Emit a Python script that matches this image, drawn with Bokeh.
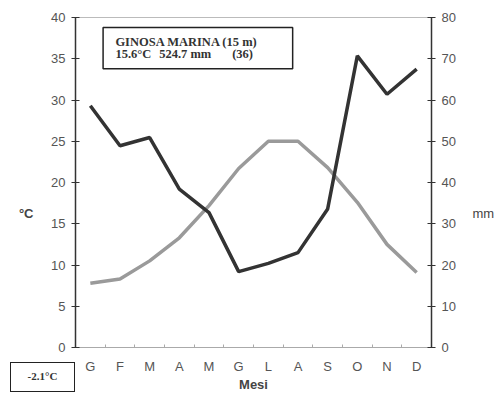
from bokeh.plotting import figure
from bokeh.models import LinearAxis, Range1d, FixedTicker, Label, BoxAnnotation, Div
from bokeh.layouts import column
from bokeh.embed import file_html
from bokeh.resources import INLINE

months = ["G", "F", "M", "A", "M", "G", "L", "A", "S", "O", "N", "D"]
temperature = [7.8, 8.3, 10.5, 13.3, 17.2, 21.7, 25.0, 25.0, 21.8, 17.6, 12.5, 9.1]
precipitation = [58.6, 48.9, 50.9, 38.4, 32.7, 18.4, 20.4, 23.0, 33.6, 70.7, 61.4, 67.5]
temp_ticks = list(range(0, 41, 5))
mm_ticks = list(range(0, 81, 10))

xs = [i + 0.5 for i in range(len(months))]

W, H = 497, 395
p = figure(width=W, height=H, x_range=Range1d(0, 12), y_range=Range1d(0, 40),
           output_backend="svg", toolbar_location=None,
           min_border_left=75, min_border_right=65, min_border_top=17, min_border_bottom=48)
p.extra_y_ranges = {"mm": Range1d(0, 80)}
p.xgrid.visible = False
p.ygrid.visible = False
p.outline_line_color = "#bbbbbb"

p.line(xs, temperature, color="#9a9a9a", line_width=3.5)
p.line(xs, precipitation, y_range_name="mm", color="#333333", line_width=3.5)

FONT = "Liberation Sans"
SERIF = "Liberation Serif"

def style_y(ax):
    ax.axis_line_color = "#333333"
    ax.axis_line_width = 1.5
    ax.major_tick_line_color = "#333333"
    ax.major_tick_line_width = 1.2
    ax.major_tick_in = 4
    ax.major_tick_out = 4
    ax.minor_tick_line_color = None
    ax.major_label_text_font = FONT
    ax.major_label_text_font_size = "13px"
    ax.major_label_text_color = "#555555"
    ax.major_label_standoff = 6

yl = p.yaxis[0]
yl.ticker = FixedTicker(ticks=temp_ticks)
style_y(yl)

yr = LinearAxis(y_range_name="mm", ticker=FixedTicker(ticks=mm_ticks))
style_y(yr)
p.add_layout(yr, "right")

# label-only axes: one tick label placed at the wanted height
def label_axis(pos, text, standoff, bold, **kw):
    return LinearAxis(ticker=FixedTicker(ticks=[pos]), major_label_overrides={pos: text},
                      axis_line_color=None, major_tick_line_color=None,
                      minor_tick_line_color=None, major_tick_in=0, major_tick_out=0,
                      minor_tick_in=0, minor_tick_out=0, major_label_standoff=standoff,
                      major_label_text_font=FONT, major_label_text_font_size="13px",
                      major_label_text_font_style="bold" if bold else "normal",
                      major_label_text_color="#444444", **kw)

p.add_layout(label_axis(16.2, "°C", 15, True), "left")
p.add_layout(label_axis(32.4, "mm", 14, False, y_range_name="mm"), "right")

xa = p.xaxis[0]
xa.ticker = FixedTicker(ticks=xs, minor_ticks=list(range(0, 13)))
xa.major_label_overrides = {x: m for x, m in zip(xs, months)}
xa.axis_line_color = "#aaaaaa"
xa.major_tick_line_color = None
xa.minor_tick_line_color = "#aaaaaa"
xa.minor_tick_in = 3
xa.minor_tick_out = 0
xa.major_label_text_font = FONT
xa.major_label_text_font_size = "13px"
xa.major_label_text_color = "#555555"
xa.major_label_standoff = 5
xa.axis_label = "Mesi"
xa.axis_label_text_font = FONT
xa.axis_label_text_font_style = "bold"
xa.axis_label_text_font_size = "13px"
xa.axis_label_text_color = "#444444"
xa.axis_label_standoff = 0

p.add_layout(BoxAnnotation(left=0.93, right=7.32, bottom=33.8, top=38.8,
                           fill_color="white", fill_alpha=1, line_color="#222222",
                           line_width=1.5, line_alpha=1))

def tlabel(x, y, text):
    p.add_layout(Label(x=x, y=y, text=text, text_baseline="middle",
                       text_font=SERIF, text_font_style="bold", text_font_size="12.5px",
                       text_color="#333333"))

tlabel(1.345, 36.97, "GINOSA MARINA (15 m)")
tlabel(1.345, 35.56, "15.6°C")
tlabel(2.82, 35.56, "524.7 mm")
tlabel(5.28, 35.56, "(36)")

box = Div(text="-2.1°C", width=65, height=30, margin=0,
          styles={"position": "absolute", "left": "10px", "top": "362px",
                  "box-sizing": "border-box", "border": "1.5px solid #222222",
                  "background": "white", "font-family": "'Liberation Serif'",
                  "font-weight": "bold", "font-size": "11px", "color": "#333333",
                  "line-height": "27px", "text-align": "center", "z-index": "10"})

root = column(p, box, spacing=0)
open("out.html", "w").write(file_html(root, INLINE))
